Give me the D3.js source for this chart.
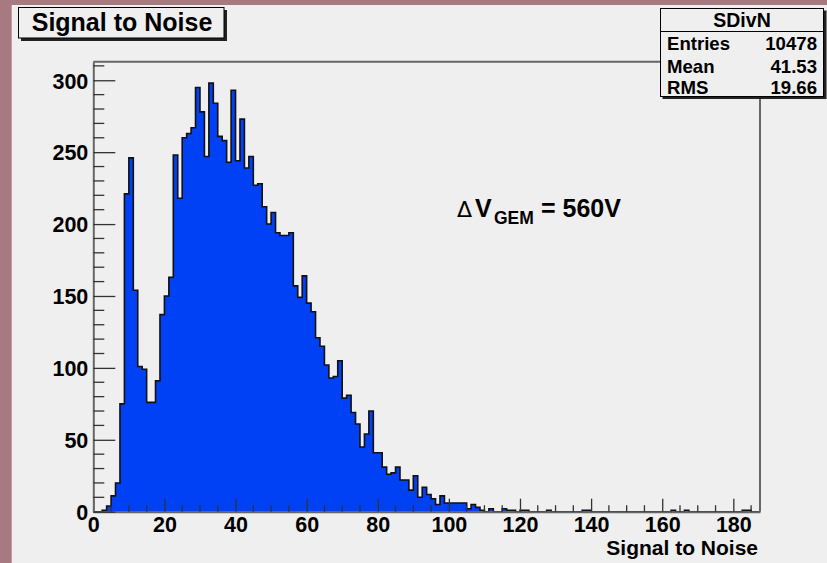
<!DOCTYPE html>
<html>
<head>
<meta charset="utf-8">
<script src="https://cdn.jsdelivr.net/npm/d3@7"></script>
<style>
  body { margin: 0; background: #a67a80; }
  svg { display: block; }
  text { font-family: "Liberation Sans", Arial, Helvetica, sans-serif; font-weight: bold; fill: #000; }
</style>
</head>
<body>
<script>
// histogram "SDivN": 150 bins of width 1.25 from 0 to 187.5
const binWidth = 1.25;
const xMax = 187.5;
const counts = [
  0, 0, 1, 4, 11, 20, 75, 221, 246, 154,
  101, 99, 76, 76, 91, 137, 150, 163, 248, 218,
  260, 263, 267, 295, 278, 247, 298, 284, 261, 258,
  243, 293, 244, 273, 239, 247, 227, 228, 212, 200,
  208, 194, 192, 192, 194, 157, 149, 164, 145, 139,
  121, 115, 102, 93, 94, 105, 79, 81, 69, 61,
  45, 54, 70, 41, 41, 31, 26, 27, 31, 22,
  22, 15, 25, 10, 17, 12, 9, 5, 11, 6,
  6, 6, 6, 6, 2, 5, 3, 1, 0, 2,
  0, 0, 2, 1, 1, 0, 1, 1, 0, 0,
  0, 0, 1, 0, 0, 0, 0, 0, 0, 0,
  1, 1, 0, 0, 0, 0, 0, 0, 0, 0,
  0, 0, 0, 0, 0, 0, 0, 0, 0, 0,
  1, 0, 0, 1, 0, 0, 0, 0, 0, 0,
  0, 0, 0, 0, 0, 0, 1, 1, 0, 0
];

const xMajor = d3.range(0, 181, 20);
const xMinor = d3.range(0, 186, 5).filter(v => v % 20 != 0);
const yMajor = d3.range(0, 301, 50);
const yMinor = d3.range(0, 311, 10).filter(v => v % 50 != 0);

const statsTitle = "SDivN";
const statsLabels = ["Entries", "Mean", "RMS"];
const statsValues = ["10478", "41.53", "19.66"];

const outerWidth = 827;
const outerHeight = 563;
const margin = {top: 61.7, right: 67, bottom: 51.3, left: 93.3};
const width = outerWidth - margin.left - margin.right;
const height = outerHeight - margin.top - margin.bottom;

const yMax = d3.max(counts) * 1.05;

const xScale = d3.scaleLinear().domain([0, xMax]).range([0, width]);
const yScale = d3.scaleLinear().domain([0, yMax]).range([height, 0]);

const svg0 = d3.select("body").append("svg")
    .attr("width", outerWidth)
    .attr("height", outerHeight);

// canvas (grey) sits a bit inside the mauve background
svg0.append("rect")
    .attr("x", 11.7).attr("y", 5)
    .attr("width", outerWidth).attr("height", outerHeight)
    .attr("fill", "#efefef");

const svg = svg0.append("g")
    .attr("transform", `translate(${margin.left},${margin.top})`);

// step points for the histogram outline
let pts = [{x: 0, y: 0}];
counts.forEach((c, i) => pts.push({x: i * binWidth, y: c}));
pts.push({x: counts.length * binWidth, y: counts[counts.length - 1]});
pts.push({x: counts.length * binWidth, y: 0});

const area = d3.area()
    .x(d => xScale(d.x))
    .y0(yScale(0))
    .y1(d => yScale(d.y))
    .curve(d3.curveStepAfter);

const line = d3.line()
    .x(d => xScale(d.x))
    .y(d => yScale(d.y))
    .curve(d3.curveStepAfter);

svg.append("path")
    .datum(pts)
    .attr("fill", "#0041f5")
    .attr("d", area);

svg.append("path")
    .datum(pts)
    .attr("fill", "none")
    .attr("stroke", "#111")
    .attr("stroke-width", 1.6)
    .attr("d", line);

// axes, ticks pointing into the frame
const xAxis = d3.axisBottom(xScale).tickValues(xMajor).tickSizeInner(-13).tickSizeOuter(0).tickPadding(5);
const yAxis = d3.axisLeft(yScale).tickValues(yMajor).tickSizeInner(-22).tickSizeOuter(0).tickPadding(5);

const gx = svg.append("g")
    .attr("transform", `translate(0,${height})`)
    .call(xAxis);
gx.selectAll(".tick")
    .data(xMinor, d => d)
    .enter().append("line")
    .attr("x1", d => xScale(d)).attr("x2", d => xScale(d))
    .attr("y1", 0).attr("y2", -6.5);

const gy = svg.append("g").call(yAxis);
gy.append("g").selectAll("line")
    .data(yMinor)
    .join("line")
    .attr("x1", 0).attr("x2", 11)
    .attr("y1", d => yScale(d)).attr("y2", d => yScale(d));

[gx, gy].forEach(g => {
    g.selectAll("line").attr("stroke", "#333").attr("stroke-width", 1.3);
    g.select(".domain").attr("stroke", "#666").attr("stroke-width", 2);
    g.selectAll(".tick text")
        .style("font-size", "21.5px")
        .style("font-weight", "bold")
        .style("font-family", "Liberation Sans, Arial, sans-serif")
        .attr("fill", "#000");
});
gy.selectAll(".tick text").attr("dy", "0.36em");

// top and right frame lines (the stats box covers the corner)
svg.append("line")
    .attr("x1", 0).attr("x2", width).attr("y1", 0).attr("y2", 0)
    .attr("stroke", "#666").attr("stroke-width", 2);
svg.append("line")
    .attr("x1", width).attr("x2", width).attr("y1", 0).attr("y2", height)
    .attr("stroke", "#666").attr("stroke-width", 2);

// x axis title
svg0.append("text")
    .attr("x", 758).attr("y", 555)
    .attr("text-anchor", "end")
    .style("font-size", "21px")
    .text("Signal to Noise");

// title box with shadow
svg0.append("rect").attr("x", 21).attr("y", 10).attr("width", 206).attr("height", 31).attr("fill", "#222");
svg0.append("rect").attr("x", 18.5).attr("y", 7.5).attr("width", 205.5).attr("height", 30.5)
    .attr("fill", "#efefef").attr("stroke", "#000").attr("stroke-width", 1);
svg0.append("text")
    .attr("x", 122).attr("y", 31)
    .attr("text-anchor", "middle")
    .style("font-size", "25px")
    .text("Signal to Noise");

// stats box
svg0.append("rect").attr("x", 662.5).attr("y", 10.5).attr("width", 164).attr("height", 88.5).attr("fill", "#222");
svg0.append("rect").attr("x", 660.5).attr("y", 8.5).attr("width", 163).attr("height", 88)
    .attr("fill", "#efefef").attr("stroke", "#000").attr("stroke-width", 1);
svg0.append("line").attr("x1", 660.5).attr("x2", 823.5).attr("y1", 31.5).attr("y2", 31.5)
    .attr("stroke", "#000").attr("stroke-width", 1);
svg0.append("text")
    .attr("x", 742).attr("y", 26.5)
    .attr("text-anchor", "middle")
    .style("font-size", "19.5px")
    .text(statsTitle);

const rowY = [49.5, 72.5, 94];
statsLabels.forEach((lab, i) => {
    svg0.append("text").attr("x", 667).attr("y", rowY[i])
        .style("font-size", "18.6px").text(lab);
    svg0.append("text").attr("x", 817).attr("y", rowY[i])
        .attr("text-anchor", "end")
        .style("font-size", "18.6px").text(statsValues[i]);
});

// annotation: Delta V_GEM = 560V
const ann = svg0.append("text").attr("y", 217).style("font-size", "25px");
ann.append("tspan").attr("x", 457).style("font-weight", "normal")
    .style("font-family", "DejaVu Sans, sans-serif").style("font-size", "22px").text("\u0394");
ann.append("tspan").attr("x", 475).text("V");
ann.append("tspan").attr("x", 494).attr("dy", 7).style("font-size", "17.5px").text("GEM");
ann.append("tspan").attr("x", 541).attr("dy", -7).text("= 560V");
</script>
</body>
</html>
